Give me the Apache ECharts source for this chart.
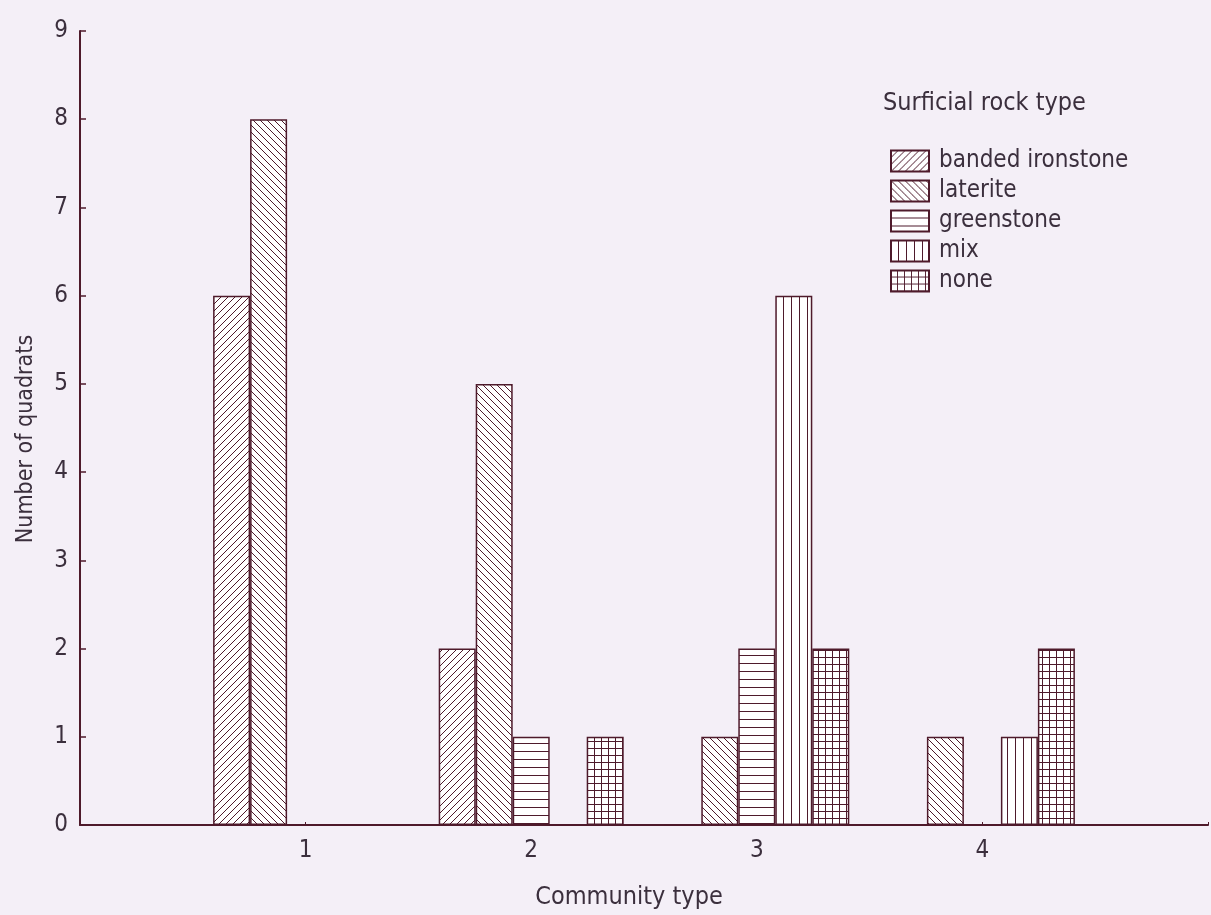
<!DOCTYPE html>
<html>
<head>
<meta charset="utf-8">
<title>Community type by surficial rock type</title>
<script src="https://cdn.jsdelivr.net/npm/echarts@6/dist/echarts.min.js"></script>
<style>
  html, body { margin: 0; padding: 0; background: #f4eff7; }
  #chart { width: 1211px; height: 915px; }
</style>
</head>
<body>
<div id="chart"></div>
<script>
// data
var categories = ['', '1', '2', '3', '4', ''];
var rockTypes = ['banded ironstone', 'laterite', 'greenstone', 'mix', 'none'];
var bandedIronstone = [null, 6, 2, 0, 0, null];
var laterite = [null, 8, 5, 1, 1, null];
var greenstone = [null, 0, 1, 2, 0, null];
var mix = [null, 0, 0, 6, 1, null];
var none = [null, 0, 1, 2, 2, null];
var yTicks = [0, 1, 2, 3, 4, 5, 6, 7, 8, 9];

var ink = '#4e1a2b';
var textColor = '#3b2f3d';
var font = "'Liberation Sans Narrow', 'DejaVu Sans Condensed', 'Liberation Sans', sans-serif";

// build a hatch pattern on a small canvas
function hatch(kind) {
  var s = (kind === 'h' || kind === 'v') ? 8 : 7;
  var c = document.createElement('canvas');
  c.width = s; c.height = s;
  var g = c.getContext('2d');
  g.fillStyle = '#ffffff';
  g.fillRect(0, 0, s, s);
  g.strokeStyle = ink;
  g.lineWidth = 1;
  g.beginPath();
  if (kind === 'fwd') {
    g.moveTo(-1, s + 1); g.lineTo(s + 1, -1);
    g.moveTo(-1, 1); g.lineTo(1, -1);
    g.moveTo(s - 1, s + 1); g.lineTo(s + 1, s - 1);
  } else if (kind === 'back') {
    g.moveTo(-1, -1); g.lineTo(s + 1, s + 1);
    g.moveTo(s - 1, -1); g.lineTo(s + 1, 1);
    g.moveTo(-1, s - 1); g.lineTo(1, s + 1);
  } else if (kind === 'h') {
    g.moveTo(0, s - 0.5); g.lineTo(s, s - 0.5);
  } else if (kind === 'v') {
    g.moveTo(s - 0.5, 0); g.lineTo(s - 0.5, s);
  } else {
    g.moveTo(0, s - 0.5); g.lineTo(s, s - 0.5);
    g.moveTo(s - 0.5, 0); g.lineTo(s - 0.5, s);
  }
  g.stroke();
  return { image: c, repeat: 'repeat' };
}

var patterns = [hatch('fwd'), hatch('back'), hatch('h'), hatch('v'), hatch('grid')];
var values = [bandedIronstone, laterite, greenstone, mix, none];

var series = rockTypes.map(function (name, i) {
  return {
    name: name,
    type: 'bar',
    data: values[i],
    barWidth: 37,
    barGap: '0%',
    itemStyle: {
      color: patterns[i],
      borderColor: ink,
      borderWidth: 1.5
    },
    emphasis: { disabled: true }
  };
});

var chart = echarts.init(document.getElementById('chart'));
chart.setOption({
  backgroundColor: '#f4eff7',
  animation: false,
  title: {
    text: 'Surficial rock type',
    left: 878,
    top: 86,
    textStyle: { fontFamily: font, fontSize: 25, fontWeight: 'normal', color: textColor }
  },
  legend: {
    data: rockTypes,
    orient: 'vertical',
    left: 885,
    top: 144,
    itemWidth: 38,
    itemHeight: 21,
    itemGap: 6,
    icon: 'rect',
    textStyle: { fontFamily: font, fontSize: 24, lineHeight: 21, color: textColor, padding: [0, 0, 0, 5] }
  },
  grid: { left: 80, right: -6, top: 31, bottom: 87, containLabel: false },
  xAxis: {
    type: 'category',
    data: categories,
    boundaryGap: false,
    name: 'Community type',
    nameLocation: 'middle',
    nameGap: 60,
    nameTextStyle: { fontFamily: font, fontSize: 25, color: textColor, padding: [0, 30, 0, 0] },
    axisLine: { lineStyle: { color: ink, width: 2 } },
    axisTick: { inside: true, length: 3, lineStyle: { color: ink } },
    axisLabel: { fontFamily: font, fontSize: 24, color: textColor, margin: 14 }
  },
  yAxis: {
    type: 'value',
    min: yTicks[0],
    max: yTicks[yTicks.length - 1],
    interval: 1,
    name: 'Number of quadrats',
    nameLocation: 'middle',
    nameGap: 42,
    nameTextStyle: { fontFamily: font, fontSize: 23, color: textColor, padding: [0, 22, 0, 0] },
    axisLine: { show: true, lineStyle: { color: ink, width: 2 } },
    axisTick: { show: true, inside: true, length: 6, lineStyle: { color: ink, width: 1.5 } },
    axisLabel: { fontFamily: font, fontSize: 24, color: textColor, margin: 12 },
    splitLine: { show: false }
  },
  series: series
});
</script>
</body>
</html>
